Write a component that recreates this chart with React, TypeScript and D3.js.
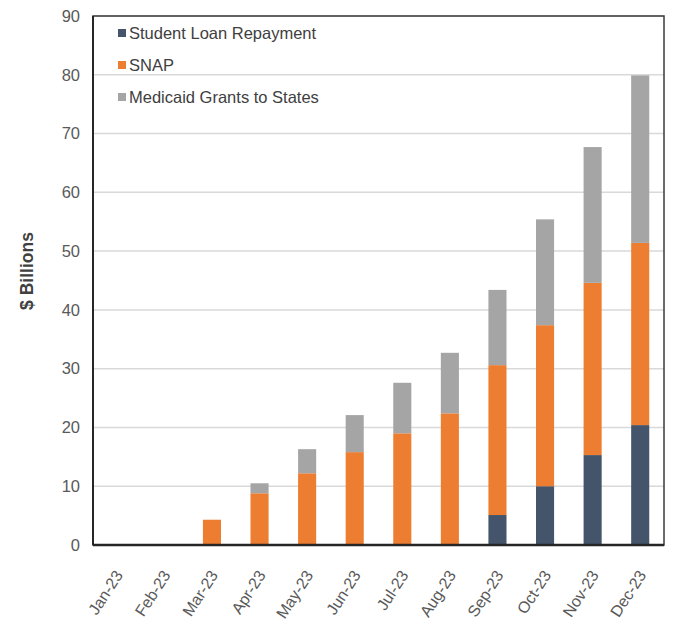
import { useRef, useEffect } from "react";
import * as d3 from "d3";

const months = ["Jan-23", "Feb-23", "Mar-23", "Apr-23", "May-23", "Jun-23", "Jul-23", "Aug-23", "Sep-23", "Oct-23", "Nov-23", "Dec-23"];
const studentLoan = [0, 0, 0, 0, 0, 0, 0, 0, 5.1, 10.0, 15.3, 20.4];
const snap = [0, 0, 4.3, 8.8, 12.2, 15.8, 19.0, 22.4, 25.5, 27.4, 29.3, 31.0];
const medicaid = [0, 0, 0, 1.7, 4.1, 6.3, 8.6, 10.3, 12.8, 18.0, 23.1, 28.5];
const yTicks = [0, 10, 20, 30, 40, 50, 60, 70, 80, 90];

const series = [
  { key: "loan", label: "Student Loan Repayment", color: "#44546a", values: studentLoan },
  { key: "snap", label: "SNAP", color: "#ed7d31", values: snap },
  { key: "medicaid", label: "Medicaid Grants to States", color: "#a5a5a5", values: medicaid },
];

export default function App() {
  const ref = useRef<SVGSVGElement>(null);

  useEffect(() => {
    if (!ref.current) return;
    const svg = d3.select(ref.current);
    svg.selectAll("*").remove();
    const W = 676, H = 636;
    const m = { top: 16, right: 12, bottom: 91, left: 93 };
    const w = W - m.left - m.right;
    const h = H - m.top - m.bottom;
    const g = svg.append("g").attr("transform", `translate(${m.left},${m.top})`);
    const font = "'Liberation Sans', Arial, sans-serif";

    const x = d3.scaleBand().domain(months).range([0, w]).paddingInner(0.62).paddingOuter(0.31);
    const y = d3.scaleLinear().domain([0, 90]).range([h, 0]);

    // gridlines
    g.selectAll(".grid").data(yTicks.slice(1)).enter().append("line")
      .attr("x1", 0).attr("x2", w).attr("y1", d => y(d)).attr("y2", d => y(d))
      .attr("stroke", "#d9d9d9").attr("stroke-width", 1.5);

    // y tick labels
    g.selectAll(".ytick").data(yTicks).enter().append("text")
      .attr("x", -13).attr("y", d => y(d)).attr("dy", "0.35em")
      .attr("text-anchor", "end").attr("font-family", font).attr("font-size", 16.5)
      .attr("fill", "#595959").text(d => d);

    // stacked bars
    const rows = months.map((mo, i) => ({ month: mo, loan: studentLoan[i], snap: snap[i], medicaid: medicaid[i] }));
    const stack = d3.stack<any>().keys(series.map(s => s.key))(rows);
    stack.forEach((layer, li) => {
      g.selectAll(`.bar-${li}`).data(layer).enter().append("rect")
        .attr("x", d => x(d.data.month)!)
        .attr("width", x.bandwidth())
        .attr("y", d => y(d[1]))
        .attr("height", d => Math.max(0, y(d[0]) - y(d[1])))
        .attr("fill", series[li].color);
    });

    // frame
    g.append("rect").attr("x", 0).attr("y", 0).attr("width", w).attr("height", h)
      .attr("fill", "none").attr("stroke", "#3a3a3a").attr("stroke-width", 1.5);
    g.append("line").attr("x1", 0).attr("x2", w).attr("y1", h).attr("y2", h)
      .attr("stroke", "#262626").attr("stroke-width", 2.5);
    g.append("line").attr("x1", 0).attr("x2", 0).attr("y1", 0).attr("y2", h)
      .attr("stroke", "#262626").attr("stroke-width", 2);

    // x labels
    g.selectAll(".xl").data(months).enter().append("text")
      .attr("transform", d => `translate(${x(d)! + x.bandwidth() / 2 + 2},${h + 27}) rotate(-57)`)
      .attr("text-anchor", "end").attr("dy", "0.35em")
      .attr("font-family", font).attr("font-size", 16).attr("fill", "#595959").text(d => d);

    // y axis title
    svg.append("text")
      .attr("transform", `translate(27,271) rotate(-90)`)
      .attr("text-anchor", "middle").attr("dy", "0.35em")
      .attr("font-family", font).attr("font-weight", "bold").attr("font-size", 17.5)
      .attr("fill", "#404040").text("$ Billions");

    // legend
    const lg = g.append("g").attr("transform", "translate(25,17)");
    series.forEach((s, i) => {
      lg.append("rect").attr("x", 0).attr("y", i * 32 - 4).attr("width", 8).attr("height", 8).attr("fill", s.color);
      lg.append("text").attr("x", 11).attr("y", i * 32).attr("dy", "0.35em")
        .attr("font-family", font).attr("font-size", 16.5).attr("fill", "#404040").text(s.label);
    });
  }, []);

  return <svg ref={ref} width={676} height={636} style={{ position: "absolute", left: 0, top: 0, background: "#fff" }} />;
}
